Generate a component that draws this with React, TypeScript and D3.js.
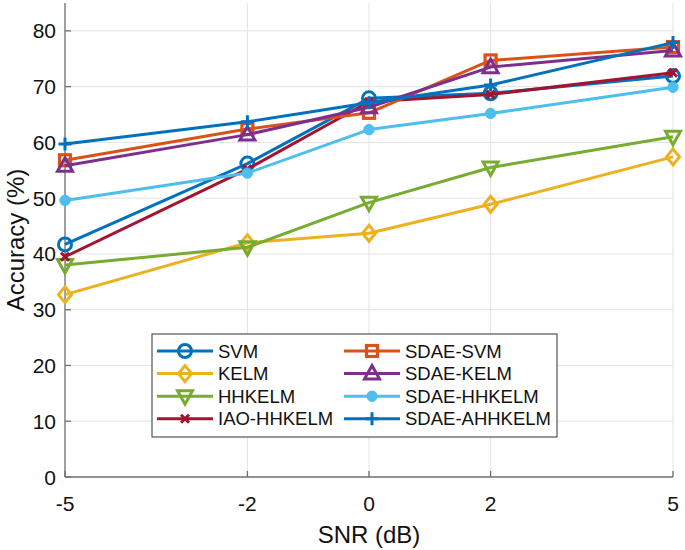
import * as d3 from "d3";

const snr = [-5, -2, 0, 2, 5];
const xTicks = [-5, -2, 0, 2, 5];
const yTicks = [0, 10, 20, 30, 40, 50, 60, 70, 80];

const svm = [41.7, 56.2, 67.9, 68.8, 71.9];
const kelm = [32.7, 42.0, 43.7, 48.9, 57.4];
const hhkelm = [38.0, 41.2, 49.2, 55.5, 61.0];
const iaoHhkelm = [39.5, 55.2, 67.3, 68.6, 72.5];
const sdaeSvm = [56.8, 62.4, 65.3, 74.7, 77.1];
const sdaeKelm = [55.8, 61.4, 66.3, 73.5, 76.5];
const sdaeHhkelm = [49.6, 54.5, 62.3, 65.2, 69.9];
const sdaeAhhkelm = [59.7, 63.7, 67.1, 70.3, 77.9];

type Marker = "circle" | "diamond" | "tridown" | "cross" | "square" | "triup" | "dot" | "plus";

const series: { name: string; values: number[]; color: string; marker: Marker }[] = [
  { name: "SVM", values: svm, color: "#0072BD", marker: "circle" },
  { name: "KELM", values: kelm, color: "#EDB120", marker: "diamond" },
  { name: "HHKELM", values: hhkelm, color: "#77AC30", marker: "tridown" },
  { name: "IAO-HHKELM", values: iaoHhkelm, color: "#A2142F", marker: "cross" },
  { name: "SDAE-SVM", values: sdaeSvm, color: "#D95319", marker: "square" },
  { name: "SDAE-KELM", values: sdaeKelm, color: "#7E2F8E", marker: "triup" },
  { name: "SDAE-HHKELM", values: sdaeHhkelm, color: "#4DBEEE", marker: "dot" },
  { name: "SDAE-AHHKELM", values: sdaeAhhkelm, color: "#0072BD", marker: "plus" },
];

const font = "'Liberation Sans', Arial, Helvetica, sans-serif";

const MarkerShape = ({ type, x, y, color }: { type: Marker; x: number; y: number; color: string }) => {
  const sw = 3;
  switch (type) {
    case "circle":
      return <circle cx={x} cy={y} r={6.5} fill="none" stroke={color} strokeWidth={sw} />;
    case "dot":
      return <circle cx={x} cy={y} r={5.2} fill={color} stroke={color} strokeWidth={1} />;
    case "square":
      return <rect x={x - 5.5} y={y - 5.5} width={11} height={11} fill="none" stroke={color} strokeWidth={3.2} />;
    case "diamond":
      return (
        <path d={`M${x},${y - 8}L${x + 6.5},${y}L${x},${y + 8}L${x - 6.5},${y}Z`} fill="none" stroke={color} strokeWidth={sw} />
      );
    case "triup":
      return (
        <path d={`M${x},${y - 8}L${x + 7.5},${y + 5.5}L${x - 7.5},${y + 5.5}Z`} fill="none" stroke={color} strokeWidth={sw} />
      );
    case "tridown":
      return (
        <path d={`M${x},${y + 8}L${x + 7.5},${y - 5.5}L${x - 7.5},${y - 5.5}Z`} fill="none" stroke={color} strokeWidth={sw} />
      );
    case "cross":
      return (
        <path d={`M${x - 4},${y - 4}L${x + 4},${y + 4}M${x - 4},${y + 4}L${x + 4},${y - 4}`} stroke={color} strokeWidth={sw} />
      );
    case "plus":
      return <path d={`M${x - 6.5},${y}L${x + 6.5},${y}M${x},${y - 6.5}L${x},${y + 6.5}`} stroke={color} strokeWidth={sw} />;
  }
};

export default function App() {
  const width = 685;
  const height = 550;
  const x = d3.scaleLinear().domain([-5, 5]).range([65, 673]);
  const y = d3.scaleLinear().domain([0, 85]).range([477, 3]);

  const line = d3
    .line<number>()
    .x((_, i) => x(snr[i]))
    .y((d) => y(d));

  // legend placement
  const lgX = 152;
  const lgY = 334;
  const lgW = 405;
  const lgH = 103;
  const rowH = 22.6;
  const colX = [157, 344];

  return (
    <svg
      width={width}
      height={height}
      style={{ position: "absolute", left: 0, top: 0, background: "#fff" }}
      fontFamily={font}
    >
      {/* grid */}
      <g stroke="#e3e3e3" strokeWidth={1}>
        {yTicks.slice(1).map((t) => (
          <line key={t} x1={x(-5)} x2={x(5)} y1={y(t)} y2={y(t)} />
        ))}
        {xTicks.slice(1).map((t) => (
          <line key={t} x1={x(t)} x2={x(t)} y1={y(0)} y2={y(85)} />
        ))}
      </g>

      {/* axes */}
      <g stroke="#6e6e6e" strokeWidth={1.3}>
        <line x1={x(-5)} x2={x(-5)} y1={y(0)} y2={y(85)} />
        <line x1={x(-5)} x2={x(5)} y1={y(0)} y2={y(0)} />
        {yTicks.map((t) => (
          <line key={t} x1={x(-5)} x2={x(-5) + 6} y1={y(t)} y2={y(t)} />
        ))}
        {xTicks.map((t) => (
          <line key={t} x1={x(t)} x2={x(t)} y1={y(0)} y2={y(0) - 6} />
        ))}
      </g>

      <g fontSize={21} fill="#111">
        {yTicks.map((t) => (
          <text key={t} x={x(-5) - 9} y={y(t)} textAnchor="end" dominantBaseline="central">
            {t}
          </text>
        ))}
        {xTicks.map((t) => (
          <text key={t} x={x(t)} y={511} textAnchor="middle">
            {t}
          </text>
        ))}
      </g>

      <text x={x(0)} y={543} textAnchor="middle" fontSize={24} fill="#111">
        SNR (dB)
      </text>
      <text
        transform={`translate(24,${y(42.5)}) rotate(-90)`}
        textAnchor="middle"
        fontSize={24}
        fill="#111"
      >
        Accuracy (%)
      </text>

      {/* series */}
      {series.map((s) => (
        <g key={s.name}>
          <path d={line(s.values) ?? ""} fill="none" stroke={s.color} strokeWidth={3} strokeLinejoin="round" />
          {s.values.map((v, i) => (
            <MarkerShape key={i} type={s.marker} x={x(snr[i])} y={y(v)} color={s.color} />
          ))}
        </g>
      ))}

      {/* legend */}
      <rect x={lgX} y={lgY} width={lgW} height={lgH} fill="#fff" stroke="#333" strokeWidth={1} />
      {series.map((s, i) => {
        const col = Math.floor(i / 4);
        const row = i % 4;
        const cy = lgY + 17 + row * rowH;
        const x0 = colX[col];
        return (
          <g key={s.name}>
            <line x1={x0} x2={x0 + 56} y1={cy} y2={cy} stroke={s.color} strokeWidth={3} />
            <MarkerShape type={s.marker} x={x0 + 28} y={cy} color={s.color} />
            <text x={x0 + 61} y={cy} dominantBaseline="central" fontSize={18.5} fill="#111">
              {s.name}
            </text>
          </g>
        );
      })}
    </svg>
  );
}
